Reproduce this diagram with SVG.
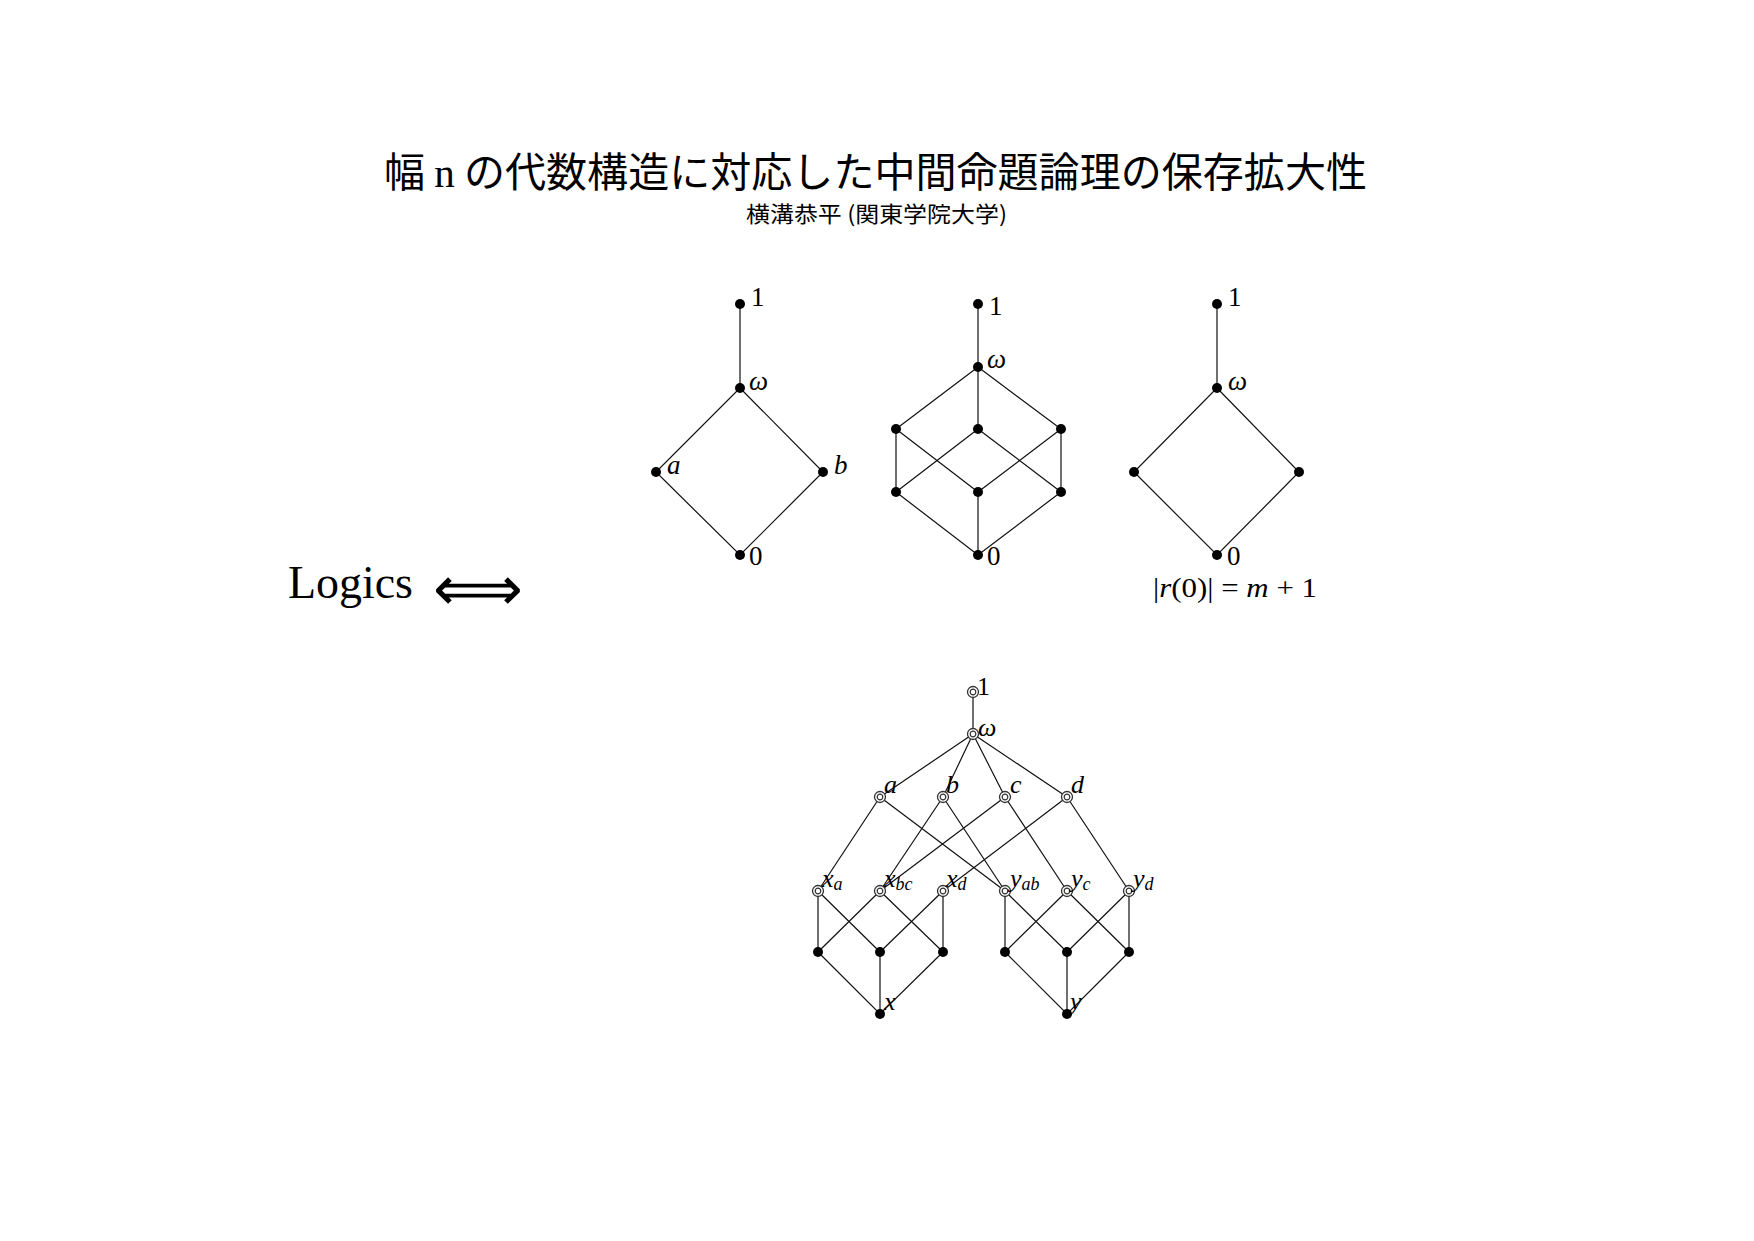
<svg xmlns="http://www.w3.org/2000/svg" width="1754" height="1241" viewBox="0 0 1754 1241">
<style>
.e{stroke:#111;stroke-width:1.2;fill:none}
.d{fill:#000}
.r{fill:#fff;stroke:#333;stroke-width:1.3}
.ri{fill:none;stroke:#333;stroke-width:1.2}
.t{font-family:"Liberation Serif",serif;font-size:27px;fill:#000}
.m{font-family:"Liberation Serif",serif;font-style:italic;font-size:27px;fill:#000}
.bt{font-size:26px}
.s{font-size:18px}
.jp{font-family:"Noto Sans CJK JP",sans-serif;fill:#000}
</style>
<defs>
<g id="ring"><circle r="5.5" class="r"/><circle r="2.8" class="ri"/></g>
</defs>
<rect width="1754" height="1241" fill="#fff"/>
<g id="title">
<text class="jp" x="384" y="187" font-size="41" textLength="983" lengthAdjust="spacingAndGlyphs">幅 <tspan font-family="Liberation Serif, serif">n</tspan> の代数構造に対応した中間命題論理の保存拡大性</text>
<text class="jp" x="746" y="222" font-size="22" textLength="261" lengthAdjust="spacingAndGlyphs">横溝恭平 (関東学院大学)</text>
</g>
<g id="logics">
<text x="288" y="598" font-family="Liberation Serif, serif" font-size="47" textLength="125" lengthAdjust="spacingAndGlyphs">Logics</text>
<text x="433" y="610" font-family="DejaVu Sans, sans-serif" font-weight="200" font-size="62" textLength="90" lengthAdjust="spacingAndGlyphs">⟺</text>
</g>
<g id="connectors">
<path class="e" d="M740 304V388L656 472L740 555L823 472L740 388"/>
<path class="e" d="M978 304V429M978 367L896 429M978 367L1061 429M896 429V492M1061 429V492M896 429L978 492M978 429L896 492M978 429L1061 492M1061 429L978 492M978 492V555M896 492L978 555L1061 492"/>
<path class="e" d="M1217 304V388L1134 472L1217 555L1299 472L1217 388"/>
<path class="e" d="M973 692V734M973 734L880 797M973 734L943 797M973 734L1005 797M973 734L1067 797
M880 797L818 891M880 797L1005 891M943 797L880 891M943 797L1005 891M1005 797L880 891M1005 797L1067 891M1067 797L943 891M1067 797L1129 891
M818 891V952M818 891L880 952M880 891L818 952M880 891L943 952M943 891L880 952M943 891V952M818 952L880 1014L943 952M880 952V1014
M1005 891V952M1005 891L1067 952M1067 891L1005 952M1067 891L1129 952M1129 891L1067 952M1129 891V952M1005 952L1067 1014L1129 952M1067 952V1014"/>
</g>
<g id="d1">
<g id="d1-1"><circle class="d" cx="740" cy="304" r="5"/><text class="t" x="751" y="306">1</text></g>
<g id="d1-w"><circle class="d" cx="740" cy="388" r="5"/><text class="m" x="749" y="390">ω</text></g>
<g id="d1-a"><circle class="d" cx="656" cy="472" r="5"/><text class="m" x="667" y="474">a</text></g>
<g id="d1-b"><circle class="d" cx="823" cy="472" r="5"/><text class="m" x="834" y="474">b</text></g>
<g id="d1-0"><circle class="d" cx="740" cy="555" r="5"/><text class="t" x="749" y="565">0</text></g>
</g>
<g id="d2">
<g id="d2-1"><circle class="d" cx="978" cy="304" r="5"/><text class="t" x="989" y="315">1</text></g>
<g id="d2-w"><circle class="d" cx="978" cy="367" r="5"/><text class="m" x="987" y="368">ω</text></g>
<g id="d2-l1"><circle class="d" cx="896" cy="429" r="5"/></g>
<g id="d2-c1"><circle class="d" cx="978" cy="429" r="5"/></g>
<g id="d2-r1"><circle class="d" cx="1061" cy="429" r="5"/></g>
<g id="d2-l2"><circle class="d" cx="896" cy="492" r="5"/></g>
<g id="d2-c2"><circle class="d" cx="978" cy="492" r="5"/></g>
<g id="d2-r2"><circle class="d" cx="1061" cy="492" r="5"/></g>
<g id="d2-0"><circle class="d" cx="978" cy="555" r="5"/><text class="t" x="987" y="565">0</text></g>
</g>
<g id="d3">
<g id="d3-1"><circle class="d" cx="1217" cy="304" r="5"/><text class="t" x="1228" y="306">1</text></g>
<g id="d3-w"><circle class="d" cx="1217" cy="388" r="5"/><text class="m" x="1228" y="390">ω</text></g>
<g id="d3-l"><circle class="d" cx="1134" cy="472" r="5"/></g>
<g id="d3-r"><circle class="d" cx="1299" cy="472" r="5"/></g>
<g id="d3-0"><circle class="d" cx="1217" cy="555" r="5"/><text class="t" x="1227" y="565">0</text></g>
<text class="t" x="1153" y="597" font-size="24" textLength="164" lengthAdjust="spacingAndGlyphs">|<tspan font-style="italic">r</tspan>(0)| = <tspan font-style="italic">m</tspan> + 1</text>
</g>
<g id="bottom">
<g id="b-1"><use href="#ring" x="973" y="692"/><text class="t bt" x="977" y="695">1</text></g>
<g id="b-w"><use href="#ring" x="973" y="734"/><text class="m bt" x="978" y="736">ω</text></g>
<g id="b-a"><use href="#ring" x="880" y="797"/><text class="m bt" x="884" y="793">a</text></g>
<g id="b-b"><use href="#ring" x="943" y="797"/><text class="m bt" x="946" y="793">b</text></g>
<g id="b-c"><use href="#ring" x="1005" y="797"/><text class="m bt" x="1010" y="793">c</text></g>
<g id="b-d"><use href="#ring" x="1067" y="797"/><text class="m bt" x="1071" y="793">d</text></g>
<g id="b-xa"><use href="#ring" x="818" y="891"/><text class="m bt" x="822" y="887">x<tspan class="s" dy="3">a</tspan></text></g>
<g id="b-xbc"><use href="#ring" x="880" y="891"/><text class="m bt" x="884" y="887">x<tspan class="s" dy="3">bc</tspan></text></g>
<g id="b-xd"><use href="#ring" x="943" y="891"/><text class="m bt" x="946" y="887">x<tspan class="s" dy="3">d</tspan></text></g>
<g id="b-yab"><use href="#ring" x="1005" y="891"/><text class="m bt" x="1010" y="887">y<tspan class="s" dy="3">ab</tspan></text></g>
<g id="b-yc"><use href="#ring" x="1067" y="891"/><text class="m bt" x="1071" y="887">y<tspan class="s" dy="3">c</tspan></text></g>
<g id="b-yd"><use href="#ring" x="1129" y="891"/><text class="m bt" x="1133" y="887">y<tspan class="s" dy="3">d</tspan></text></g>
<g id="b-l1"><circle class="d" cx="818" cy="952" r="5"/></g>
<g id="b-l2"><circle class="d" cx="880" cy="952" r="5"/></g>
<g id="b-l3"><circle class="d" cx="943" cy="952" r="5"/></g>
<g id="b-r1"><circle class="d" cx="1005" cy="952" r="5"/></g>
<g id="b-r2"><circle class="d" cx="1067" cy="952" r="5"/></g>
<g id="b-r3"><circle class="d" cx="1129" cy="952" r="5"/></g>
<g id="b-x"><circle class="d" cx="880" cy="1014" r="5"/><text class="m bt" x="884" y="1010">x</text></g>
<g id="b-y"><circle class="d" cx="1067" cy="1014" r="5"/><text class="m bt" x="1070" y="1010">y</text></g>
</g>
</svg>
